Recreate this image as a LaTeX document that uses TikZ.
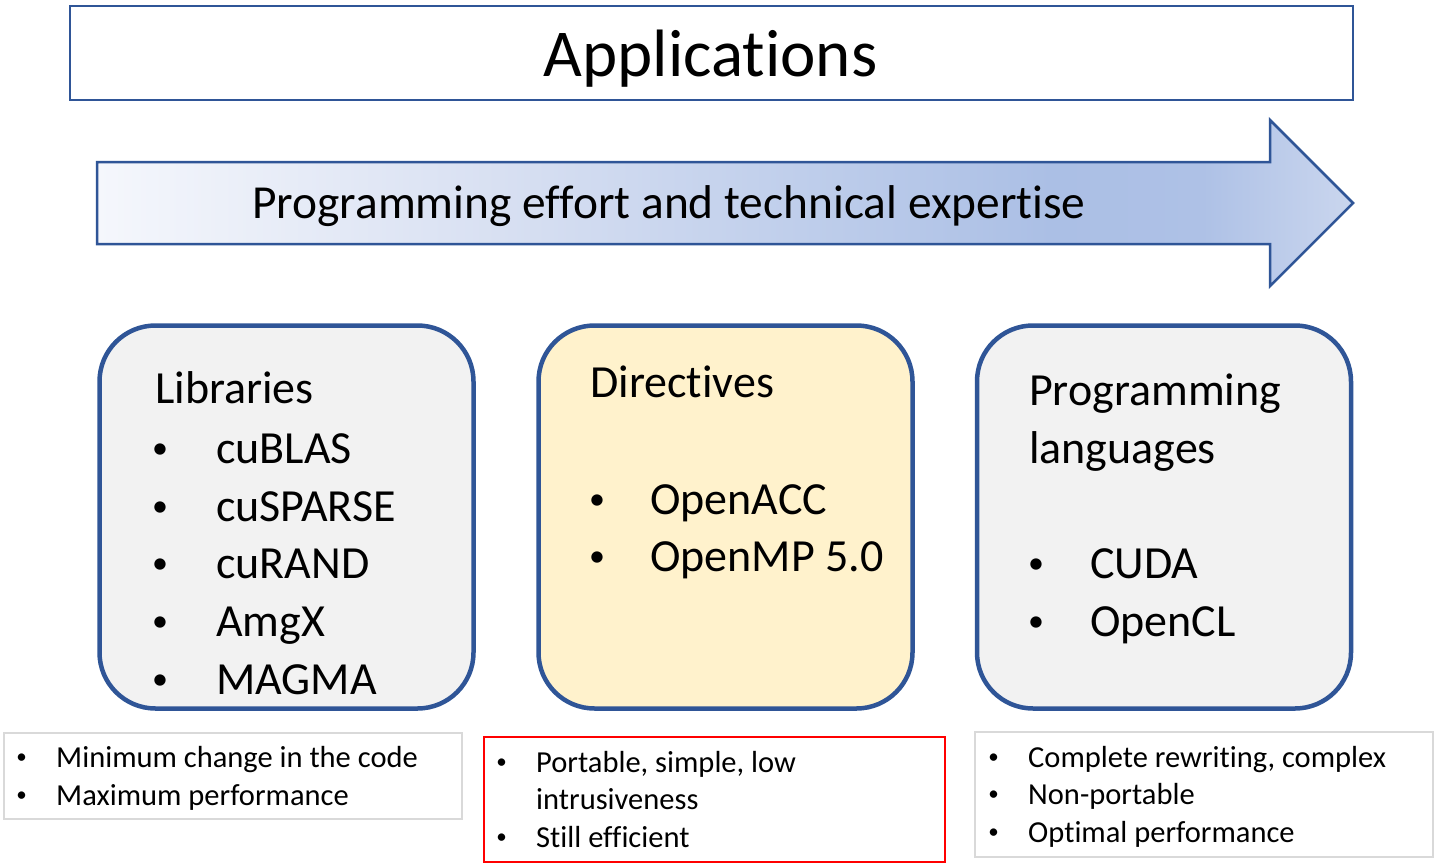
\documentclass[tikz,border=0pt]{standalone}
\usepackage{fontspec}
\setmainfont{Carlito}[Ligatures={NoCommon}]
\definecolor{bord}{HTML}{2F5597}
\definecolor{boxgray}{HTML}{F2F2F2}
\definecolor{boxyel}{HTML}{FFF2CC}
\definecolor{lightline}{HTML}{D9D9D9}
\definecolor{redline}{HTML}{FF0000}
\definecolor{sA}{HTML}{F5F7FC}
\definecolor{sB}{HTML}{D8E0F2}
\definecolor{sC}{HTML}{BFCEEB}
\definecolor{sD}{HTML}{ABBFE5}
\definecolor{sE}{HTML}{AEC1E6}
\definecolor{sF}{HTML}{CAD6EE}
\pgfdeclarehorizontalshading{arrowshade}{100bp}{color(0bp)=(sA); color(25bp)=(sA); color(41bp)=(sB); color(53bp)=(sC); color(63bp)=(sD); color(69bp)=(sE); color(75bp)=(sF); color(100bp)=(sF)}
\newcommand{\bigdot}{\fontsize{32}{40}\selectfont\raisebox{5pt}{•}}
\newcommand{\smdot}{\fontsize{21}{26}\selectfont\raisebox{3.5pt}{•}}
\begin{document}
\begin{tikzpicture}[x=1pt,y=-1pt,
  bigbox/.style={draw=bord, line width=4.5pt, rounded corners=56pt, minimum width=374pt, minimum height=383pt, inner sep=0pt},
  notebox/.style={line width=2.5pt, inner sep=0pt},
  bigtxt/.style={anchor=base west, inner sep=0pt, font=\fontsize{46}{55}\selectfont},
  bigbul/.style={anchor=base, inner sep=0pt},
  smtxt/.style={anchor=base west, inner sep=0pt, font=\fontsize{30.5}{37}\selectfont},
  smbul/.style={anchor=base, inner sep=0pt}]
\useasboundingbox (0,0) rectangle (1438,865);
\fill[white] (0,0) rectangle (1438,865);

% Applications
\node[draw=bord, line width=2pt, minimum width=1283pt, minimum height=94pt, inner sep=0pt] (appbox) at (711,52.5) {};
\node[anchor=base, inner sep=0pt, font=\fontsize{67}{70}\selectfont] (apptext) at (710.5,76) {Applications};

% Arrow
\path[draw=bord, line width=2.5pt, shading=arrowshade, line join=miter]
  (97,162) -- (1270,162) -- (1270,120) -- (1353,203) -- (1270,286) -- (1270,244) -- (97,244) -- cycle;
\node[anchor=base west, inner sep=0pt, font=\fontsize{47.4}{55}\selectfont] (arrowtext) at (252,218) {Programming effort and technical expertise};

% Big boxes
\node[bigbox, fill=boxgray] (libbox) at (286.5,517) {};
\node[bigbox, fill=boxyel] (dirbox) at (725.5,517) {};
\node[bigbox, fill=boxgray] (langbox) at (1164,517) {};

% Libraries
\node[bigtxt] (libt) at (155,403) {Libraries};
\node[bigbul] (lb1) at (160,463) {\bigdot};
\node[bigtxt] (l1) at (216,463) {cuBLAS};
\node[bigbul] (lb2) at (160,521) {\bigdot};
\node[bigtxt] (l2) at (216,521) {cuSPARSE};
\node[bigbul] (lb3) at (160,578) {\bigdot};
\node[bigtxt] (l3) at (216,578) {cuRAND};
\node[bigbul] (lb4) at (160,636) {\bigdot};
\node[bigtxt] (l4) at (216,636) {AmgX};
\node[bigbul] (lb5) at (160,694) {\bigdot};
\node[bigtxt] (l5) at (216,694) {MAGMA};

% Directives
\node[bigtxt] (dirt) at (590,397) {Directives};
\node[bigbul] (db1) at (597,514) {\bigdot};
\node[bigtxt] (d1) at (650,514) {OpenACC};
\node[bigbul] (db2) at (597,571) {\bigdot};
\node[bigtxt] (d2) at (650,571) {OpenMP 5.0};

% Programming languages
\node[bigtxt] (langt1) at (1029,405) {Programming};
\node[bigtxt] (langt2) at (1029,463) {languages};
\node[bigbul] (pb1) at (1036,578) {\bigdot};
\node[bigtxt] (p1) at (1090,578) {CUDA};
\node[bigbul] (pb2) at (1036,636) {\bigdot};
\node[bigtxt] (p2) at (1090,636) {OpenCL};

% Note boxes
\node[notebox, draw=lightline, minimum width=458pt, minimum height=86pt] (note1) at (233,776) {};
\node[notebox, draw=redline, minimum width=461pt, minimum height=125pt] (note2) at (714.5,799.5) {};
\node[notebox, draw=lightline, minimum width=458pt, minimum height=125pt] (note3) at (1204,794.5) {};

\node[smbul] (n1b1) at (21.5,767) {\smdot};
\node[smtxt] (n1a) at (56,767) {Minimum change in the code};
\node[smbul] (n1b2) at (21.5,805) {\smdot};
\node[smtxt] (n1c) at (56,805) {Maximum performance};

\node[smbul] (n2b1) at (501.5,772) {\smdot};
\node[smtxt] (n2a) at (536,772) {Portable, simple, low};
\node[smtxt] (n2b) at (536,809) {intrusiveness};
\node[smbul] (n2b2) at (501.5,847) {\smdot};
\node[smtxt] (n2c) at (536,847) {Still efficient};

\node[smbul] (n3b1) at (993.5,767) {\smdot};
\node[smtxt] (n3a) at (1028,767) {Complete rewriting, complex};
\node[smbul] (n3b2) at (993.5,804) {\smdot};
\node[smtxt] (n3b) at (1028,804) {Non-portable};
\node[smbul] (n3b3) at (993.5,842) {\smdot};
\node[smtxt] (n3c) at (1028,842) {Optimal performance};
\end{tikzpicture}
\end{document}
